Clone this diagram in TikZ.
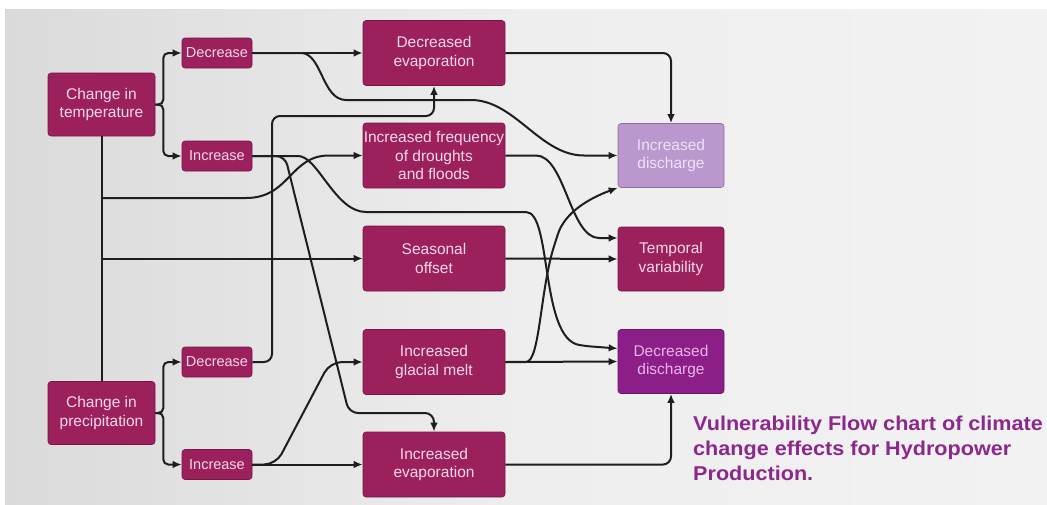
\documentclass[tikz,border=0pt]{standalone}
\usepackage{fontspec}
\setmainfont{Liberation Sans}
\newfontfamily\capfont[FakeStretch=1.08]{Liberation Sans}
\usetikzlibrary{arrows.meta,calc}
\definecolor{boxc}{RGB}{155,32,92}
\definecolor{boxd}{RGB}{120,22,70}
\definecolor{boxt}{RGB}{248,218,232}
\definecolor{idc}{RGB}{186,152,206}
\definecolor{idd}{RGB}{140,110,160}
\definecolor{idt}{RGB}{236,226,246}
\definecolor{ddc}{RGB}{140,30,135}
\definecolor{ddd}{RGB}{105,20,100}
\definecolor{ddt}{RGB}{234,180,234}
\definecolor{capc}{RGB}{140,40,140}
\definecolor{linec}{RGB}{30,30,30}
\definecolor{bgl}{RGB}{218,218,218}
\definecolor{bgm}{RGB}{238,238,238}
\definecolor{bgr}{RGB}{242,242,242}
\tikzset{
  basebox/.style={draw=boxd, fill=boxc, text=boxt, rounded corners=3pt, inner sep=0pt, align=center, line width=0.6pt},
  bigbox/.style={basebox, minimum width=142pt, minimum height=65pt, font=\fontsize{15.5}{18.5}\selectfont},
  smallbox/.style={basebox, minimum width=70pt, minimum height=30pt, font=\fontsize{14.5}{17}\selectfont},
  srcbox/.style={basebox, minimum width=107pt, minimum height=63pt, font=\fontsize{15.5}{18.5}\selectfont},
  outbox/.style={basebox, minimum width=106pt, minimum height=64pt, font=\fontsize{15.5}{18.5}\selectfont},
  conn/.style={draw=linec, line width=2pt, -{Latex[length=9pt,width=7.5pt]}, rounded corners=6pt},
  plainline/.style={draw=linec, line width=2pt}
}
\begin{document}
\begin{tikzpicture}[x=1pt,y=-1pt]
\useasboundingbox (0,0) rectangle (1047,504);
\fill[white] (0,0) rectangle (1047,504);
\shade[left color=bgl, right color=bgr, middle color=bgm] (5,9) rectangle (1047,504);

% sources
\node[srcbox] (CT) at (101.5,104.5) {Change in\\temperature};
\node[srcbox] (CP) at (101.5,413) {Change in\\precipitation};
\node[smallbox] (Dec1) at (217,53) {Decrease};
\node[smallbox] (Inc1) at (217,156) {Increase};
\node[smallbox] (Dec2) at (217,362) {Decrease};
\node[smallbox] (Inc2) at (217,464.5) {Increase};
% middle
\node[bigbox] (DE) at (434,53) {Decreased\\evaporation};
\node[bigbox] (IF) at (434,155.5) {Increased frequency\\of droughts\\and floods};
\node[bigbox] (SO) at (434,258.5) {Seasonal\\offset};
\node[bigbox] (GM) at (434,362) {Increased\\glacial melt};
\node[bigbox] (IE) at (434,464.5) {Increased\\evaporation};
% outputs
\node[outbox, fill=idc, draw=idd, text=idt] (ID) at (671,155.5) {Increased\\discharge};
\node[outbox] (TV) at (671,259) {Temporal\\variability};
\node[outbox, fill=ddc, draw=ddd, text=ddt] (DD) at (671,361.5) {Decreased\\discharge};

% caption
\node[anchor=north west, align=left, inner sep=0pt, text=capc,
      font=\capfont\bfseries\fontsize{20}{25}\selectfont] (cap) at (693,416)
  {Vulnerability Flow chart of climate\\change effects for Hydropower\\Production.};

% forks
\draw[conn, rounded corners=5pt] (CT.east) -- ++(8,0) |- (Dec1.west);
\draw[conn, rounded corners=5pt] (CT.east) -- ++(8,0) |- (Inc1.west);
\draw[conn, rounded corners=5pt] (CP.east) -- ++(8,0) |- (Dec2.west);
\draw[conn, rounded corners=5pt] (CP.east) -- ++(8,0) |- (Inc2.west);

% shared trunk
\draw[plainline] (CT.south) -- (CP.north);
\coordinate (b1) at (101.5,198);
\coordinate (b2) at (101.5,258.5);
\draw[conn] (b1) -- (240,198) .. controls (290,198) and (290,155.5) .. (335,155.5) -- (IF.west);
\draw[conn] (b2) -- (SO.west);

% from Decrease (temperature)
\draw[conn] (Dec1.east) -- (DE.west);
\draw[conn] (Dec1.east) -- (295,53) .. controls (322,53) and (322,100) .. (352,100) -- (465,100)
   .. controls (515,100) and (540,155.5) .. (590,155.5) -- (ID.west);

% from Increase (temperature)
\draw[conn, rounded corners=9pt] (Inc1.east) -- (285,156) -- (349,413) -| (IE.north);
\draw[conn] (Inc1.east) -- (292,156) .. controls (318,156) and (335,212) .. (372,212) -- (520,212)
   .. controls (552,212) and (540,338) .. (585,346) -- ($(DD.west)+(0,-13)$);

% from Decrease (precipitation)
\draw[conn, rounded corners=8pt] (Dec2.east) -| (272,116) -| (DE.south);

% from Increase (precipitation)
\draw[conn] (Inc2.east) -- (IE.west);
\draw[conn, rounded corners=12pt] (Inc2.east) -- (276,464.5) -- (330,362) -- (GM.west);

% middle to outputs
\draw[conn, rounded corners=8pt] (DE.east) -| (ID.north);
\draw[conn] (IF.east) -- (530,155.5) .. controls (565,155.5) and (570,238) .. (605,238) -- ($(TV.west)+(0,-21)$);
\draw[conn] (SO.east) -- (TV.west);
\draw[conn] (GM.east) -- (DD.west);
\draw[conn] (GM.east) -- (520,362) .. controls (540,362) and (540,290) .. (556,240)
   .. controls (565,212) and (590,198) .. (ID.south west);
\draw[conn, rounded corners=8pt] (IE.east) -| (DD.south);
\end{tikzpicture}
\end{document}
